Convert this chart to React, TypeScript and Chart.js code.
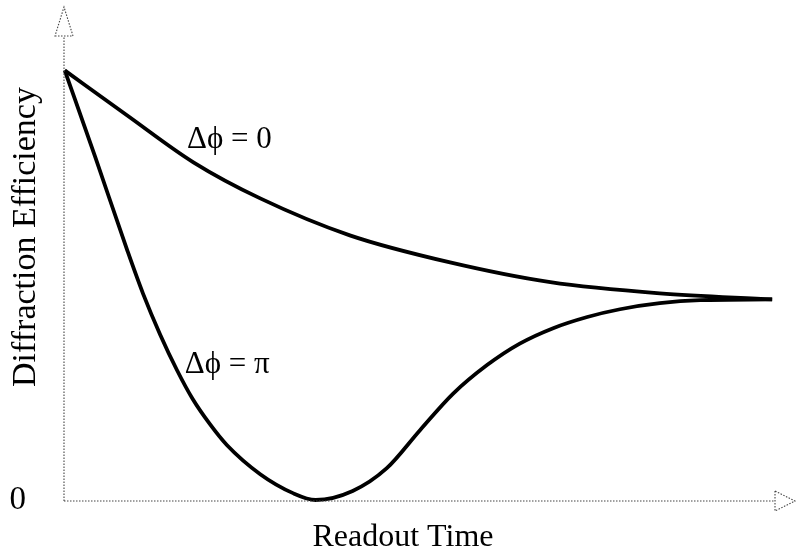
import React, { useEffect, useRef } from "react";
import { Chart, registerables } from "chart.js";

Chart.register(...registerables);

// Readout time (arbitrary units) and diffraction efficiency for each phase case
const timeZero = [0.01, 0.89, 1.82, 2.76, 4.02, 5.43, 6.84, 8.38, 9.96];
const effZero = [1.0, 0.895, 0.786, 0.702, 0.616, 0.553, 0.507, 0.481, 0.467];

const timePi = [0.01, 0.44, 0.89, 1.11, 1.35, 1.59, 1.81, 2.05, 2.29, 2.76, 3.22, 3.54, 4.06, 4.54, 5.01, 5.47, 5.95, 6.41, 6.88, 7.36, 7.82, 8.38, 8.95, 9.96];
const effPi = [1.0, 0.798, 0.581, 0.481, 0.386, 0.302, 0.235, 0.177, 0.128, 0.060, 0.016, 0.0, 0.021, 0.074, 0.163, 0.247, 0.314, 0.364, 0.4, 0.426, 0.444, 0.458, 0.465, 0.467];

const curveLabels = ["\u0394\u03d5 = 0", "\u0394\u03d5 = \u03c0"];
const xTitle = "Readout Time";
const yTitle = "Diffraction Efficiency";
const yTickLabels = ["0"];

const SERIF = "'Liberation Serif', 'Times New Roman', serif";

const toPoints = (xs: number[], ys: number[]) => xs.map((x, i) => ({ x, y: ys[i] }));

// Dotted axes with open arrowheads, axis titles and the in-plot curve labels
const axesAndLabels = {
  id: "axesAndLabels",
  afterDatasetsDraw(chart: any) {
    const { ctx, chartArea, scales } = chart;
    const { left, right, top, bottom } = chartArea;
    ctx.save();
    ctx.strokeStyle = "#444";
    ctx.lineWidth = 1.1;
    ctx.setLineDash([1.5, 1.5]);

    // vertical axis
    ctx.beginPath();
    ctx.moveTo(left, bottom + 1);
    ctx.lineTo(left, top);
    ctx.stroke();
    // arrowhead up
    ctx.beginPath();
    ctx.moveTo(left - 9, top);
    ctx.lineTo(left + 9, top);
    ctx.lineTo(left, top - 29);
    ctx.closePath();
    ctx.stroke();

    // horizontal axis
    ctx.beginPath();
    ctx.moveTo(left, bottom + 1);
    ctx.lineTo(right, bottom + 1);
    ctx.stroke();
    // arrowhead right
    ctx.beginPath();
    ctx.moveTo(right, bottom + 1 - 10);
    ctx.lineTo(right, bottom + 1 + 10);
    ctx.lineTo(right + 20, bottom + 1);
    ctx.closePath();
    ctx.stroke();
    ctx.setLineDash([]);

    ctx.fillStyle = "#000";
    ctx.textBaseline = "alphabetic";

    // curve labels
    ctx.font = `31px ${SERIF}`;
    ctx.textAlign = "left";
    const anchors = [
      { x: 1.73, y: 0.819 },
      { x: 1.7, y: 0.295 },
    ];
    curveLabels.forEach((t, i) => {
      ctx.fillText(t, scales.x.getPixelForValue(anchors[i].x), scales.y.getPixelForValue(anchors[i].y));
    });

    // axis titles
    ctx.font = `32px ${SERIF}`;
    ctx.textAlign = "center";
    ctx.fillText(xTitle, 403, 546);

    ctx.save();
    ctx.translate(35, 237);
    ctx.rotate(-Math.PI / 2);
    ctx.font = `34px ${SERIF}`;
    ctx.fillText(yTitle, 0, 0);
    ctx.restore();

    ctx.restore();
  },
};

export default function App() {
  const ref = useRef<HTMLCanvasElement>(null);

  useEffect(() => {
    document.body.style.margin = "0";
    const canvas = ref.current;
    if (!canvas) return;
    const lineStyle = {
      borderColor: "#000",
      borderWidth: 3.8,
      pointRadius: 0,
      fill: false,
      cubicInterpolationMode: "monotone" as const,
      clip: false as any,
    };
    const chart = new Chart(canvas, {
      type: "line",
      data: {
        datasets: [
          { label: curveLabels[0], data: toPoints(timeZero, effZero), ...lineStyle },
          { label: curveLabels[1], data: toPoints(timePi, effPi), ...lineStyle },
        ],
      },
      options: {
        animation: false,
        responsive: false,
        events: [],
        layout: { padding: { top: 36, right: 21, left: 0, bottom: 0 } },
        plugins: { legend: { display: false }, tooltip: { enabled: false } },
        scales: {
          x: {
            type: "linear",
            min: 0,
            max: 10,
            grid: { display: false },
            border: { display: false },
            ticks: { display: false },
            afterFit: (s: any) => {
              s.height = 53;
              s.paddingLeft = 0;
              s.paddingRight = 0;
            },
          },
          y: {
            type: "linear",
            min: 0,
            max: 1.08,
            grid: { display: false },
            border: { display: false },
            afterBuildTicks: (s: any) => {
              s.ticks = [{ value: 0 }];
            },
            ticks: {
              padding: 30,
              color: "#000",
              font: { family: SERIF, size: 33 },
              callback: (v: any, i: number) => yTickLabels[i] ?? "",
            },
            afterFit: (s: any) => {
              s.width = 64;
              s.paddingTop = 0;
              s.paddingBottom = 0;
            },
          },
        },
      },
      plugins: [axesAndLabels],
    });
    return () => chart.destroy();
  }, []);

  return (
    <div style={{ width: 796, height: 553, background: "#fff" }}>
      <canvas ref={ref} width={796} height={553} />
    </div>
  );
}
